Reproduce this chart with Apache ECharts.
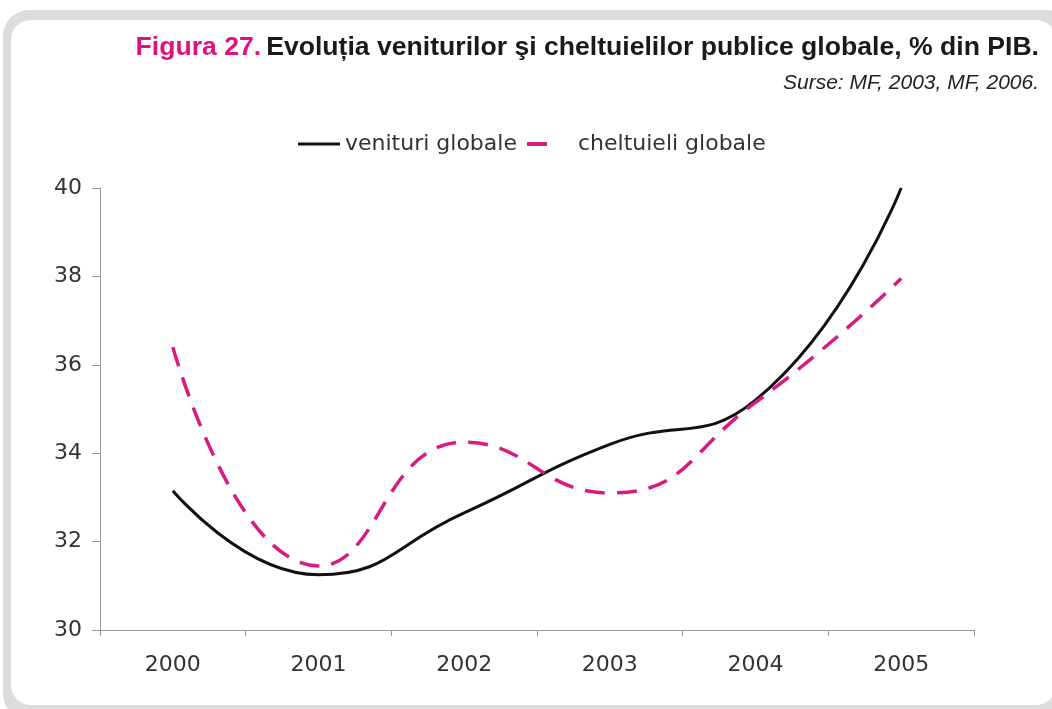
<!DOCTYPE html>
<html>
<head>
<meta charset="utf-8">
<script src="https://cdn.jsdelivr.net/npm/echarts@6/dist/echarts.min.js"></script>
<style>
html,body{margin:0;padding:0;background:#fff;width:1052px;height:709px;overflow:hidden;}
#frame{position:absolute;left:3px;top:10px;width:1070px;height:710px;background:#dcdcdc;border-radius:26px;}
#inner{position:absolute;left:8px;top:10px;width:1045px;height:685px;background:#fff;border-radius:20px;}
#chart{position:absolute;left:0;top:0;width:1052px;height:709px;}
</style>
</head>
<body>
<div id="frame"><div id="inner"></div></div>
<div id="chart"></div>
<script>
const categories = ['2000','2001','2002','2003','2004','2005'];
const venituri = [33.15, 31.25, 32.65, 34.2, 35.2, 40.0];
const cheltuieli = [36.4, 31.45, 34.25, 33.1, 35.15, 37.95];
const yTicks = {min: 30, max: 40, interval: 2};
const seriesNames = ['venituri globale', 'cheltuieli globale'];
const titleFigure = 'Figura 27.';
const titleText = 'Evoluția veniturilor şi cheltuielilor publice globale, % din PIB.';
const sourceText = 'Surse: MF, 2003, MF, 2006.';

const chart = echarts.init(document.getElementById('chart'));
chart.setOption({
  backgroundColor: 'transparent',
  animation: false,
  title: [
    {
      text: '{m|' + titleFigure + '} {d|' + titleText + '}',
      right: 13,
      top: 34,
      padding: 0,
      textStyle: {
        fontFamily: 'Liberation Sans',
        rich: {
          m: {color: '#e0117f', fontSize: 26.6, fontWeight: 'bold', fontFamily: 'Liberation Sans'},
          d: {color: '#1a1a1a', fontSize: 26.6, fontWeight: 'bold', fontFamily: 'Liberation Sans'}
        }
      }
    },
    {
      text: sourceText,
      right: 13,
      top: 73,
      padding: 0,
      textStyle: {color: '#222', fontSize: 21, fontStyle: 'italic', fontWeight: 'normal', fontFamily: 'Liberation Sans'}
    }
  ],
  legend: [
    {
      left: 298,
      top: 133,
      padding: 0,
      icon: 'rect',
      itemWidth: 42,
      itemHeight: 3,
      textStyle: {color: '#333', fontSize: 22, fontFamily: 'DejaVu Sans'},
      data: [seriesNames[0]]
    },
    {
      left: 527,
      top: 133,
      padding: 0,
      icon: 'rect',
      itemWidth: 20,
      itemHeight: 4,
      textStyle: {color: '#333', fontSize: 22, fontFamily: 'DejaVu Sans', padding: [0, 0, 0, 26]},
      data: [seriesNames[1]]
    }
  ],
  grid: {left: 100, right: 78, top: 188, bottom: 79},
  xAxis: {
    type: 'category',
    data: categories,
    boundaryGap: true,
    axisLine: {lineStyle: {color: '#999', width: 1}},
    axisTick: {show: true, length: 6, lineStyle: {color: '#999'}},
    axisLabel: {color: '#333', fontSize: 22, fontFamily: 'DejaVu Sans', margin: 24}
  },
  yAxis: {
    type: 'value',
    min: yTicks.min,
    max: yTicks.max,
    interval: yTicks.interval,
    axisLine: {show: true, lineStyle: {color: '#999', width: 1}},
    axisTick: {show: true, length: 8, lineStyle: {color: '#999'}},
    splitLine: {show: false},
    axisLabel: {color: '#333', fontSize: 22, fontFamily: 'DejaVu Sans', margin: 18}
  },
  series: [
    {
      name: seriesNames[0],
      type: 'line',
      data: venituri,
      smooth: 0.5,
      symbol: 'none',
      lineStyle: {color: '#111', width: 3},
      itemStyle: {color: '#111'}
    },
    {
      name: seriesNames[1],
      type: 'line',
      data: cheltuieli,
      smooth: 0.5,
      symbol: 'none',
      lineStyle: {color: '#d81b7e', width: 3.5, type: [20, 12]},
      itemStyle: {color: '#d81b7e'}
    }
  ]
});
</script>
</body>
</html>
